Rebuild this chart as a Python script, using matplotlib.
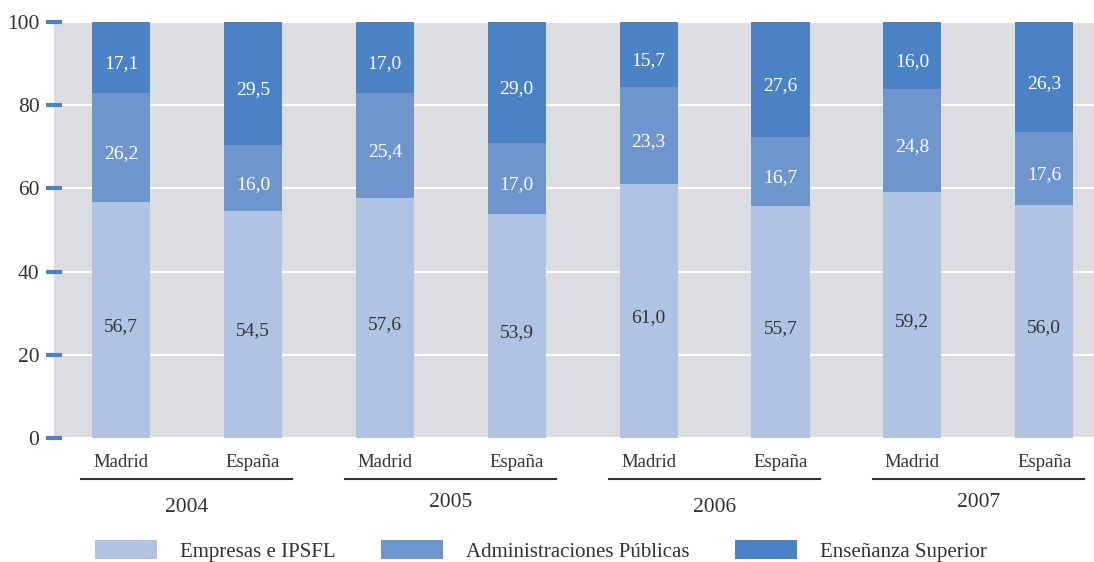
import numpy as np
import matplotlib.pyplot as plt
from matplotlib.patches import Patch
import matplotlib.transforms as mtransforms

plt.rcParams['font.family'] = ['Liberation Serif', 'DejaVu Serif']

# Data
years = ["2004", "2005", "2006", "2007"]
regions = ["Madrid", "España"]
empresas = [56.7, 54.5, 57.6, 53.9, 61.0, 55.7, 59.2, 56.0]
administraciones = [26.2, 16.0, 25.4, 17.0, 23.3, 16.7, 24.8, 17.6]
ensenanza = [17.1, 29.5, 17.0, 29.0, 15.7, 27.6, 16.0, 26.3]
series_names = ["Empresas e IPSFL", "Administraciones Públicas", "Enseñanza Superior"]

colors = ["#b0c3e3", "#6e96cc", "#4a82c3"]
text_colors = ["#333333", "white", "white"]
dark = "#333333"

fig = plt.figure(figsize=(10.94, 5.62), dpi=100)
ax = fig.add_axes([54 / 1094, 124 / 562, 1 - 54 / 1094, 416 / 562])
ax.set_facecolor("#dcdde0")

x = np.arange(len(empresas))
width = 0.44
bottom = np.zeros(len(empresas))
for vals, col, tcol in zip([empresas, administraciones, ensenanza], colors, text_colors):
    vals = np.array(vals)
    ax.bar(x, vals, width=width, bottom=bottom, color=col, zorder=3)
    for xi, b, v in zip(x, bottom, vals):
        ax.text(xi, b + v / 2 - 1.5, f"{v:.1f}".replace(".", ","), ha="center", va="center",
                color=tcol, fontsize=14, zorder=4)
    bottom += vals

ax.set_xlim(-0.508, 7.377)
ax.set_ylim(0, 100)
ax.set_yticks([0, 20, 40, 60, 80, 100])
ax.set_xticks([])
for s in ax.spines.values():
    s.set_visible(False)
ax.yaxis.grid(True, color="white", linewidth=1.5, zorder=1)
ax.set_axisbelow(True)
ax.tick_params(axis="y", direction="inout", length=11, width=3, color="#4a82c3",
               labelsize=15.5, labelcolor=dark, pad=5)

# Two-level category labels below the plot
trans = mtransforms.blended_transform_factory(ax.transData, ax.transAxes)
year_y = [-0.168, -0.156, -0.168, -0.156]
for g, year in enumerate(years):
    x0 = 2 * g
    for k, reg in enumerate(regions):
        ax.text(x0 + k, -0.06, reg, transform=trans, ha="center", va="center",
                fontsize=13.5, color=dark)
    ax.plot([x0 - 0.3, x0 + 1.3], [-0.0986, -0.0986], transform=trans, color=dark,
            linewidth=1.5, clip_on=False)
    ax.text(x0 + 0.5, year_y[g], year, transform=trans, ha="center", va="center",
            fontsize=15.5, color=dark)

handles = [Patch(facecolor=c, edgecolor="none") for c in colors]
fig.legend(handles, series_names, loc="center", bbox_to_anchor=(541 / 1094, 1 - 551 / 562),
           ncol=3, frameon=False, fontsize=15, handlelength=3.0, handleheight=1.0,
           handletextpad=1.1, columnspacing=2.16, labelcolor=dark)

fig.savefig("out.png", dpi=100)
